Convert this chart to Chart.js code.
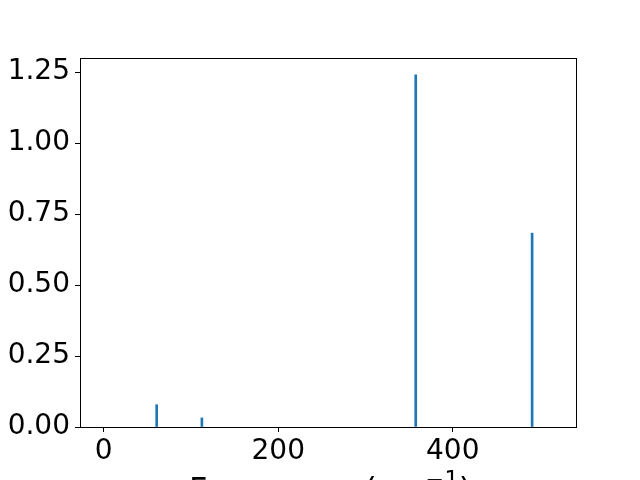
<!DOCTYPE html>
<html>
<head>
<meta charset="utf-8">
<script src="https://cdn.jsdelivr.net/npm/chart.js@4/dist/chart.umd.min.js"></script>
<style>
  html, body { margin: 0; padding: 0; background: #ffffff; }
  #wrap { width: 640px; height: 480px; position: relative; overflow: hidden; }
</style>
</head>
<body>
<div id="wrap"><canvas id="c" width="640" height="480"></canvas></div>
<script>
// Data
const frequencies = [60.7, 112.5, 357.6, 491.0];
const intensities = [0.0785, 0.032, 1.241, 0.683];
const xTickValues = [0, 200, 400];
const yTickValues = [0, 0.25, 0.5, 0.75, 1.0, 1.25];
const xAxisTitle = ['Frequency (cm', '\u22121', ')'];

const FONT = 'DejaVu Sans';
const points = frequencies.map((f, i) => ({ x: f, y: intensities[i] }));

const frame = {
  id: 'frame',
  afterDraw(chart) {
    const { ctx, chartArea: a } = chart;
    ctx.save();
    ctx.strokeStyle = '#000';
    ctx.lineWidth = 1;
    ctx.strokeRect(Math.round(a.left) + 0.5, Math.round(a.top) + 0.5,
                   Math.round(a.right - a.left), Math.round(a.bottom - a.top));
    // x axis title (cut by the bottom edge, as in the reference)
    ctx.fillStyle = '#000';
    ctx.textBaseline = 'alphabetic';
    const big = '32px "' + FONT + '"';
    const small = '22.4px "' + FONT + '"';
    ctx.font = big;
    const w1 = ctx.measureText(xAxisTitle[0]).width;
    const w3 = ctx.measureText(xAxisTitle[2]).width;
    ctx.font = small;
    const w2 = ctx.measureText(xAxisTitle[1]).width;
    const total = w1 + w2 + w3;
    let x = (a.left + a.right) / 2 + 2 - total / 2;
    const base = 500;
    ctx.textAlign = 'left';
    ctx.font = big;
    ctx.fillText(xAxisTitle[0], x, base);
    x += w1;
    ctx.font = small;
    ctx.fillText(xAxisTitle[1], x, base - 13);
    x += w2;
    ctx.font = big;
    ctx.fillText(xAxisTitle[2], x, base);
    ctx.restore();
  }
};

new Chart(document.getElementById('c'), {
  type: 'bar',
  data: {
    datasets: [{
      data: points,
      backgroundColor: '#1f77b4',
      borderWidth: 0,
      barThickness: 2
    }]
  },
  options: {
    responsive: false,
    animation: false,
    layout: { padding: { top: 58, right: 64, left: 0, bottom: 0 } },
    plugins: { legend: { display: false }, tooltip: { enabled: false } },
    scales: {
      x: {
        type: 'linear',
        offset: false,
        min: -27.2,
        max: 541.3,
        afterBuildTicks(s) { s.ticks = xTickValues.map(v => ({ value: v })); },
        afterFit(s) { s.height = 53; },
        grid: { offset: false, drawOnChartArea: false, drawTicks: true, tickLength: 5, color: '#000', lineWidth: 1 },
        border: { display: false },
        ticks: {
          color: '#000', padding: 3, maxRotation: 0,
          font: { family: FONT, size: 28 },
          callback: v => String(v)
        }
      },
      y: {
        min: 0,
        max: 1.3,
        afterBuildTicks(s) { s.ticks = yTickValues.map(v => ({ value: v })); },
        afterFit(s) { s.width = 80; },
        grid: { drawOnChartArea: false, drawTicks: true, tickLength: 5, color: '#000', lineWidth: 1 },
        border: { display: false },
        ticks: {
          color: '#000', padding: 5,
          font: { family: FONT, size: 28 },
          callback: v => Number(v).toFixed(2)
        }
      }
    }
  },
  plugins: [frame]
});
</script>
</body>
</html>
